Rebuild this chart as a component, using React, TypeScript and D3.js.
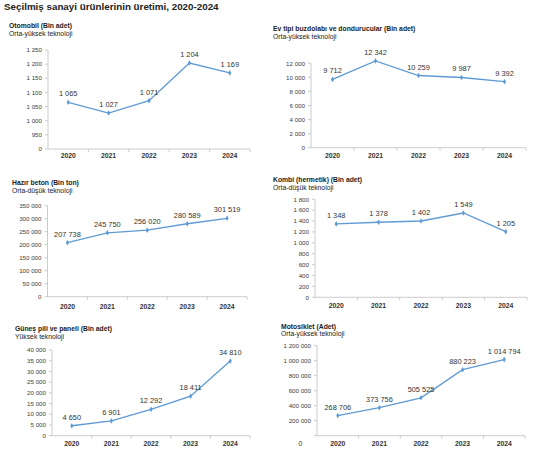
import { useEffect, useRef } from "react";
import * as d3 from "d3";

const W = 534, H = 463;
const FONT = "'Liberation Sans', Arial, sans-serif";
const LINE = "#5f9bd3";

const years = ["2020", "2021", "2022", "2023", "2024"];

// Values per panel
const otomobil = [1065, 1027, 1071, 1204, 1169];
const buzdolabi = [9712, 12342, 10259, 9987, 9392];
const hazirBeton = [207738, 245750, 256020, 280589, 301519];
const kombi = [1348, 1378, 1402, 1549, 1205];
const gunes = [4650, 6901, 12292, 18411, 34810];
const motosiklet = [268706, 373756, 505525, 880223, 1014794];

// Y ticks per panel
const otomobilTicks = [900, 950, 1000, 1050, 1100, 1150, 1200, 1250];
const buzdolabiTicks = [0, 2000, 4000, 6000, 8000, 10000, 12000];
const hazirBetonTicks = [0, 50000, 100000, 150000, 200000, 250000, 300000, 350000];
const kombiTicks = [0, 200, 400, 600, 800, 1000, 1200, 1400, 1600, 1800];
const gunesTicks = [0, 5000, 10000, 15000, 20000, 25000, 30000, 35000, 40000];
const motosikletTicks = [200000, 400000, 600000, 800000, 1000000, 1200000];

const titles = [
  "Otomobil (Bin adet)", "Ev tipi buzdolabı ve dondurucular (Bin adet)",
  "Hazır beton (Bin ton)", "Kombi (hermetik) (Bin adet)",
  "Güneş pili ve paneli (Bin adet)", "Motosiklet (Adet)",
];
const subtitles = [
  "Orta-yüksek teknoloji", "Orta-yüksek teknoloji",
  "Orta-düşük teknoloji", "Orta-düşük teknoloji",
  "Yüksek teknoloji", "Orta-yüksek teknoloji",
];

const fmt = (v: number) => d3.format(",")(v).replace(/,/g, "\u00a0");

interface Panel {
  values: number[]; ticks: number[]; domain: [number, number];
  x0: number; x1: number; yTop: number; yBot: number;
  tx: number; ty: number; yearY: number; labelAt0?: boolean; zeroOff?: [number, number];
}

const panels: Panel[] = [
  { values: otomobil, ticks: otomobilTicks, domain: [900, 1250], x0: 48, x1: 250, yTop: 50, yBot: 149, tx: 9, ty: 28, yearY: 158, labelAt0: true },
  { values: buzdolabi, ticks: buzdolabiTicks, domain: [0, 12000], x0: 311, x1: 526, yTop: 63.3, yBot: 147.7, tx: 273, ty: 31, yearY: 158 },
  { values: hazirBeton, ticks: hazirBetonTicks, domain: [0, 350000], x0: 47.5, x1: 247, yTop: 205.7, yBot: 296.7, tx: 12, ty: 185, yearY: 309 },
  { values: kombi, ticks: kombiTicks, domain: [0, 1800], x0: 315, x1: 527, yTop: 199.3, yBot: 297.3, tx: 273, ty: 182, yearY: 308 },
  { values: gunes, ticks: gunesTicks, domain: [0, 40000], x0: 52, x1: 250, yTop: 350, yBot: 435.7, tx: 15, ty: 331, yearY: 446 },
  { values: motosiklet, ticks: motosikletTicks, domain: [200000, 1200000], x0: 317, x1: 525, yTop: 345.7, yBot: 420.7, tx: 281, ty: 328.5, yearY: 446, zeroOff: [300.5, 446] },
];

export default function App() {
  const ref = useRef<SVGSVGElement>(null);

  useEffect(() => {
    if (!ref.current) return;
    const svg = d3.select(ref.current);
    svg.selectAll("*").remove();
    svg.append("rect").attr("width", W).attr("height", H).attr("fill", "white");

    svg.append("text").attr("x", 4).attr("y", 10)
      .attr("font-size", 9.8).attr("font-weight", "bold").attr("fill", "#222")
      .text("Seçilmiş sanayi ürünlerinin üretimi, 2020-2024");

    panels.forEach((p, i) => {
      const g = svg.append("g");
      g.append("text").attr("x", p.tx).attr("y", p.ty)
        .attr("font-size", 6.8).attr("font-weight", "bold").attr("fill", "#222").text(titles[i]);
      g.append("text").attr("x", p.tx).attr("y", p.ty + 7.8)
        .attr("font-size", 6.8).attr("fill", "#222").text(subtitles[i]);

      const x = d3.scaleBand().domain(years).range([p.x0, p.x1]);
      const y = d3.scaleLinear().domain(p.domain).range([p.yBot, p.yTop]);
      const axisY = p.zeroOff ? y(0) : p.yBot;

      // y axis
      g.append("line").attr("x1", p.x0).attr("x2", p.x0)
        .attr("y1", y(p.ticks[p.ticks.length - 1])).attr("y2", axisY)
        .attr("stroke", "#bfbfbf").attr("stroke-width", 0.8);
      p.ticks.forEach((t) => {
        g.append("line").attr("x1", p.x0 - 3).attr("x2", p.x0)
          .attr("y1", y(t)).attr("y2", y(t)).attr("stroke", "#bfbfbf").attr("stroke-width", 0.8);
        g.append("text").attr("x", p.x0 - 6).attr("y", y(t) + 2.2)
          .attr("text-anchor", "end").attr("font-size", 6.2).attr("fill", "#404040")
          .text(p.labelAt0 && t === p.domain[0] ? "0" : fmt(t));
      });
      if (p.zeroOff) {
        g.append("line").attr("x1", p.x0 - 3).attr("x2", p.x0)
          .attr("y1", axisY).attr("y2", axisY).attr("stroke", "#bfbfbf").attr("stroke-width", 0.8);
        g.append("text").attr("x", p.zeroOff[0]).attr("y", p.zeroOff[1])
          .attr("text-anchor", "middle").attr("font-size", 6.8).attr("fill", "#333").text("0");
      }

      // x axis
      g.append("line").attr("x1", p.x0).attr("x2", p.x1)
        .attr("y1", axisY).attr("y2", axisY).attr("stroke", "#bfbfbf").attr("stroke-width", 0.8);
      years.forEach((yr, k) => {
        const bx = x(yr)!;
        if (k > 0) g.append("line").attr("x1", bx).attr("x2", bx)
          .attr("y1", axisY).attr("y2", axisY + 3).attr("stroke", "#bfbfbf").attr("stroke-width", 0.8);
        g.append("text").attr("x", bx + x.bandwidth() / 2).attr("y", p.yearY)
          .attr("text-anchor", "middle").attr("font-size", 6.8).attr("font-weight", "bold").attr("fill", "#333")
          .text(yr);
      });
      g.append("line").attr("x1", p.x1).attr("x2", p.x1)
        .attr("y1", axisY).attr("y2", axisY + 3).attr("stroke", "#bfbfbf").attr("stroke-width", 0.8);

      const cx = (k: number) => x(years[k])! + x.bandwidth() / 2;
      const line = d3.line<number>().x((_, k) => cx(k)).y((v) => y(v));
      g.append("path").attr("d", line(p.values)).attr("fill", "none")
        .attr("stroke", LINE).attr("stroke-width", 1.35);

      p.values.forEach((v, k) => {
        g.append("path").attr("d", d3.symbol(d3.symbolDiamond, 9)())
          .attr("transform", `translate(${cx(k)},${y(v)})`).attr("fill", LINE);
        g.append("text").attr("x", cx(k)).attr("y", y(v) - 6)
          .attr("text-anchor", "middle").attr("font-size", 7.4).attr("fill", "#333")
          .text(fmt(v));
      });
    });
  }, []);

  return (
    <svg ref={ref} width={W} height={H}
      style={{ position: "absolute", left: 0, top: 0, fontFamily: FONT }} />
  );
}
